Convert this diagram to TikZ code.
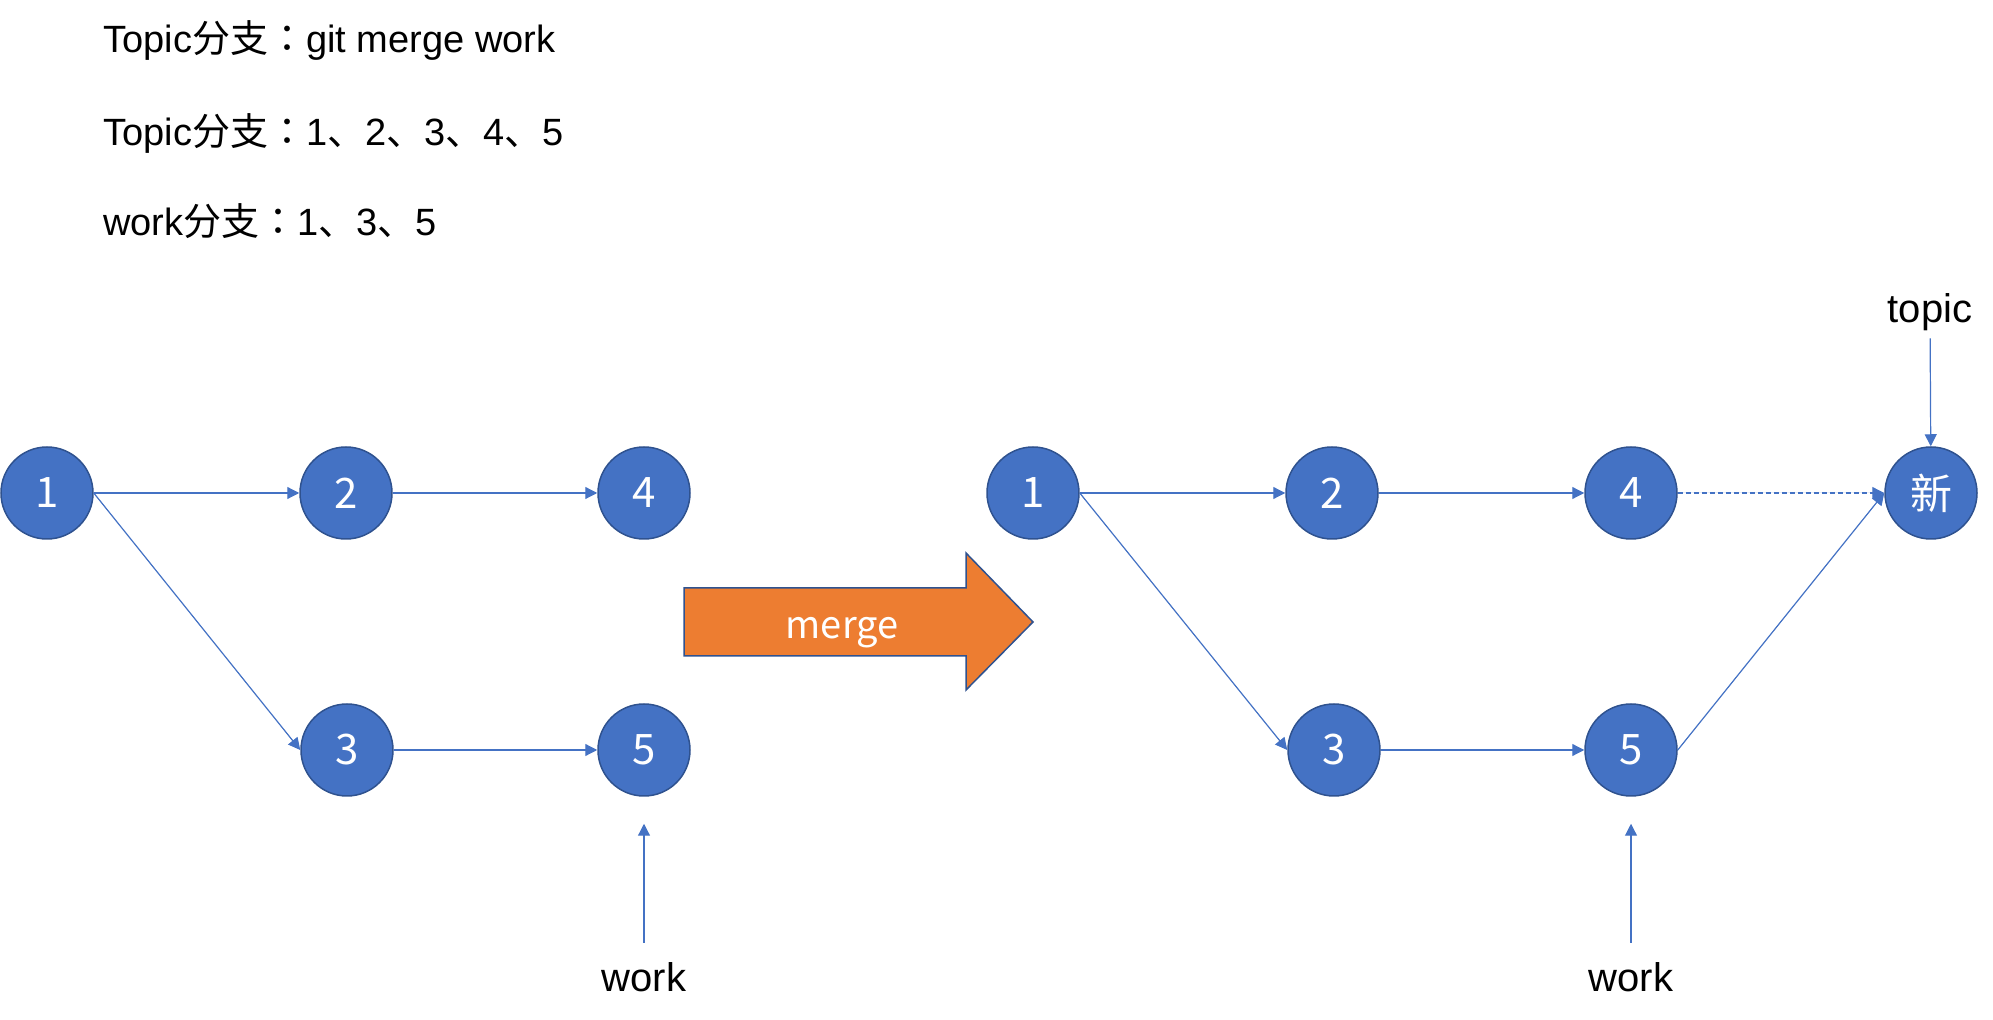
\documentclass[tikz,border=0pt]{standalone}
\usepackage{fontspec}
\setmainfont{Liberation Sans}
\newfontfamily\cjk{Noto Sans CJK SC}
\newfontfamily\cjkjp{Noto Sans CJK JP}
\usetikzlibrary{arrows.meta}
\definecolor{nodeblue}{HTML}{4472C4}
\definecolor{rimblue}{HTML}{2F528F}
\definecolor{mergeorange}{HTML}{ED7D31}
\begin{document}
\begin{tikzpicture}[x=0.5pt,y=-0.5pt]
        \useasboundingbox (0,0) rectangle (1993,1020);
        %======estilos dos commits==========%

            \tikzstyle{vertex}=[circle,draw=rimblue,line width=0.75pt,fill=nodeblue,minimum size=46pt,inner sep=0pt,text=white,font=\cjk\fontsize{21pt}{25pt}\selectfont]
            \tikzstyle{edge}=[-{Triangle[length=6pt,width=6pt]},draw=nodeblue,fill=nodeblue,line width=0.6pt]
            \tikzstyle{edge_dash}=[edge,dash pattern=on 2.5pt off 1.5pt]
            \tikzstyle{ramo}=[anchor=base,font=\fontsize{20pt}{24pt}\selectfont]
            \tikzstyle{titulo}=[anchor=base west,inner sep=0pt,font=\fontsize{19pt}{24pt}\selectfont]

        %====================%%=============%

            \node[titulo](T1) at (103,53) {Topic{\cjk 分支}{\cjkjp ：}git merge work};
            \node[titulo](T2) at (103,146) {Topic{\cjk 分支}{\cjkjp ：}1{\cjk 、}2{\cjk 、}3{\cjk 、}4{\cjk 、}5};
            \node[titulo](T3) at (103,236) {work{\cjk 分支}{\cjkjp ：}1{\cjk 、}3{\cjk 、}5};

        %======antes do merge==========%

            \node[vertex](A) at (47,493) {1};
            \node[vertex](B) at (346,493) {2};
            \node[vertex](C) at (644,493) {4};
            \node[vertex](D) at (347,750) {3};
            \node[vertex](E) at (644,750) {5};
            \node[ramo](W1) at (644,992) {work};

            \draw[edge](A) -- (B);
            \draw[edge](B) -- (C);
            \draw[edge](A.east) -- (D.west);
            \draw[edge](D) -- (E);
            \draw[edge,shorten <=6.5pt,shorten >=13.5pt](W1) -- (E);

        %======seta merge==========%

            \draw[draw=rimblue,line width=0.75pt,fill=mergeorange] (684,588) -- (966,588) -- (966,553) -- (1033,622) -- (966,690) -- (966,656) -- (684,656) -- cycle;
            \node[text=white,font=\cjk\fontsize{19pt}{23pt}\selectfont](M) at (842,633) {merge};

        %======depois do merge==========%

            \node[vertex](F) at (1033,493) {1};
            \node[vertex](G) at (1332,493) {2};
            \node[vertex](H) at (1631,493) {4};
            \node[vertex](I) at (1334,750) {3};
            \node[vertex](J) at (1631,750) {5};
            \node[vertex](K) at (1931,493) {新};
            \node[ramo](W2) at (1631,992) {work};
            \node[ramo](T) at (1930,323) {topic};

            \draw[edge](F) -- (G);
            \draw[edge](G) -- (H);
            \draw[edge](F.east) -- (I.west);
            \draw[edge](I) -- (J);
            \draw[edge](J.east) -- (K.west);
            \draw[edge_dash](H) -- (K);
            \draw[edge,shorten <=6.5pt,shorten >=13.5pt](W2) -- (J);
            \draw[edge](T) -- (K);
        \end{tikzpicture}
\end{document}
